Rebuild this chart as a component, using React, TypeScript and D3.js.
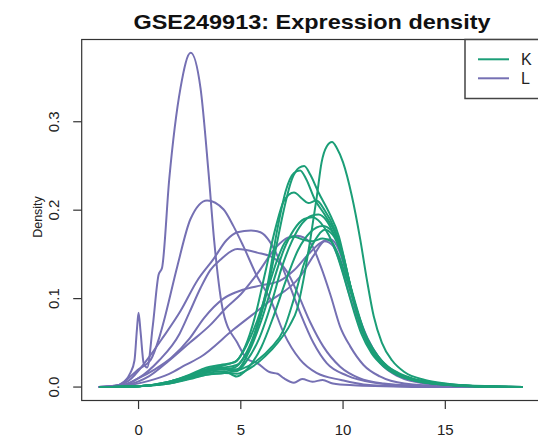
import React from "react";
import * as d3 from "d3";

type Pt = [number, number];

// group L (purple) density curves, [expression, density]
const groupL: Pt[][] = [
  [[-1.95,0],[-1.2,0.001],[-0.7,0.006],[-0.4,0.016],[-0.2,0.03],[-0.08,0.065],[0,0.084],[0.1,0.062],[0.25,0.027],[0.42,0.022],[0.7,0.07],[0.98,0.127],[1.15,0.135],[1.5,0.235],[2.05,0.338],[2.55,0.378],[3.03,0.338],[3.42,0.243],[3.7,0.165],[4.15,0.084],[4.83,0.05],[5.3,0.032],[5.8,0.027],[6.4,0.017],[6.8,0.015],[7.1,0.01],[7.6,0.005],[8.0,0.009],[8.5,0.006],[9.0,0.008],[9.5,0.004],[10.5,0.002],[12,0.001],[14,0],[18.8,0]],
  [[-1.95,0],[-1.0,0.002],[-0.4,0.012],[0,0.02],[0.6,0.031],[1.0,0.055],[1.22,0.073],[1.9,0.137],[2.54,0.19],[3.35,0.211],[4.15,0.201],[4.64,0.182],[5.13,0.159],[5.8,0.125],[6.45,0.099],[7.1,0.061],[7.9,0.031],[8.7,0.016],[9.9,0.008],[11,0.003],[13,0.001],[18.8,0]],
  [[-1.95,0],[-1.0,0.002],[-0.5,0.007],[0.42,0.031],[1.22,0.057],[2.05,0.086],[2.86,0.12],[3.67,0.145],[4.3,0.166],[4.83,0.175],[5.5,0.177],[5.96,0.175],[6.4,0.165],[6.8,0.148],[7.27,0.122],[7.9,0.084],[8.55,0.05],[9.2,0.027],[10.2,0.013],[11.5,0.005],[13,0.002],[18.8,0]],
  [[-1.95,0],[-0.8,0.002],[0,0.01],[1,0.03],[2,0.06],[2.5,0.085],[3.03,0.112],[3.5,0.132],[4.0,0.144],[4.83,0.156],[5.8,0.152],[6.6,0.146],[7.27,0.13],[7.76,0.107],[8.4,0.073],[9.03,0.046],[9.86,0.023],[10.8,0.01],[12,0.004],[14,0.001],[18.8,0]],
  [[-1.95,0],[-0.5,0.003],[0.5,0.012],[1.5,0.03],[2.5,0.05],[3.5,0.07],[4.3,0.09],[5.0,0.105],[5.8,0.128],[6.8,0.16],[7.3,0.169],[7.75,0.171],[8.4,0.163],[8.9,0.137],[9.4,0.103],[9.86,0.068],[10.35,0.046],[11,0.025],[11.8,0.012],[13,0.004],[15,0.001],[18.8,0]],
  [[-1.95,0],[-0.5,0.002],[0.5,0.007],[1.5,0.015],[2.3,0.025],[3.03,0.034],[4.64,0.065],[6.3,0.095],[7.9,0.125],[8.6,0.15],[9.1,0.165],[9.5,0.16],[9.86,0.14],[10.3,0.105],[10.8,0.07],[11.3,0.045],[11.9,0.025],[12.7,0.012],[14,0.004],[16,0.001],[18.8,0]],
  [[-1.95,0],[-0.8,0.002],[0,0.01],[0.8,0.02],[1.6,0.033],[2.5,0.055],[3.2,0.078],[4.15,0.1],[5.1,0.11],[6.0,0.115],[6.9,0.12],[7.6,0.132],[8.3,0.15],[8.9,0.163],[9.37,0.167],[9.8,0.155],[10.2,0.125],[10.7,0.085],[11.2,0.055],[11.8,0.032],[12.5,0.016],[13.5,0.007],[15,0.002],[18.8,0]],
];

// group K (green) density curves
const groupK: Pt[][] = [
  [[-1.9,0],[0,0.001],[1.5,0.004],[2.5,0.01],[3.3,0.014],[4.2,0.016],[4.8,0.015],[5.5,0.022],[6.2,0.035],[6.8,0.05],[7.4,0.07],[7.75,0.088],[8.07,0.122],[8.4,0.167],[8.72,0.216],[8.95,0.254],[9.2,0.272],[9.46,0.277],[9.7,0.27],[10.0,0.254],[10.43,0.216],[10.84,0.167],[11.16,0.122],[11.5,0.08],[11.9,0.05],[12.4,0.03],[13,0.017],[14,0.008],[15,0.004],[16.5,0.001],[18.8,0]],
  [[-1.9,0],[0,0.001],[1.5,0.005],[2.5,0.012],[3.2,0.018],[4.0,0.02],[4.7,0.022],[5.2,0.035],[5.7,0.06],[6.2,0.1],[6.7,0.155],[7.1,0.2],[7.5,0.235],[7.85,0.248],[8.1,0.25],[8.4,0.24],[8.8,0.22],[9.3,0.198],[9.8,0.17],[10.2,0.13],[10.6,0.09],[11.0,0.06],[11.5,0.037],[12.1,0.022],[12.8,0.013],[13.8,0.006],[15,0.003],[16.5,0.001],[18.8,0]],
  [[-1.9,0],[0,0.001],[1.5,0.006],[2.5,0.013],[3.3,0.02],[4.1,0.022],[4.8,0.025],[5.3,0.04],[5.8,0.07],[6.3,0.115],[6.8,0.18],[7.2,0.222],[7.6,0.242],[7.9,0.245],[8.2,0.235],[8.6,0.213],[9.1,0.195],[9.6,0.175],[10.0,0.148],[10.4,0.11],[10.8,0.075],[11.2,0.05],[11.7,0.032],[12.3,0.019],[13,0.011],[14,0.005],[15.5,0.002],[18.8,0]],
  [[-1.9,0],[0,0.001],[1.5,0.006],[2.5,0.014],[3.3,0.022],[4.0,0.025],[4.7,0.028],[5.2,0.045],[5.7,0.08],[6.2,0.13],[6.7,0.18],[7.1,0.21],[7.6,0.22],[8.0,0.213],[8.3,0.208],[8.7,0.211],[9.1,0.2],[9.6,0.178],[10.0,0.15],[10.4,0.11],[10.8,0.077],[11.2,0.052],[11.7,0.033],[12.3,0.02],[13,0.012],[14,0.006],[15.5,0.002],[18.8,0]],
  [[-1.9,0],[0,0.001],[1.5,0.005],[2.5,0.011],[3.3,0.017],[4.1,0.02],[4.8,0.018],[5.3,0.03],[5.9,0.055],[6.5,0.095],[7.0,0.135],[7.5,0.165],[8.0,0.185],[8.5,0.194],[8.8,0.195],[9.2,0.188],[9.6,0.17],[10.0,0.145],[10.4,0.108],[10.8,0.075],[11.2,0.05],[11.7,0.032],[12.3,0.019],[13,0.011],[14,0.005],[15.5,0.002],[18.8,0]],
  [[-1.9,0],[0,0.001],[1.5,0.005],[2.5,0.01],[3.3,0.016],[4.2,0.018],[4.8,0.012],[5.3,0.02],[6.0,0.045],[6.6,0.08],[7.2,0.12],[7.8,0.155],[8.4,0.175],[9.0,0.182],[9.4,0.178],[9.8,0.16],[10.2,0.128],[10.6,0.095],[11.0,0.065],[11.5,0.042],[12.0,0.027],[12.7,0.016],[13.5,0.009],[14.5,0.005],[16,0.002],[18.8,0]],
  [[-1.9,0],[0,0.001],[1.5,0.004],[2.5,0.009],[3.3,0.014],[4.2,0.016],[5.0,0.02],[5.8,0.03],[6.5,0.045],[7.1,0.065],[7.6,0.1],[8.1,0.14],[8.6,0.165],[9.1,0.178],[9.5,0.172],[9.9,0.152],[10.3,0.118],[10.7,0.085],[11.1,0.058],[11.6,0.038],[12.2,0.023],[12.9,0.013],[13.8,0.007],[15,0.003],[16.5,0.001],[18.8,0]],
  [[-1.9,0],[0,0.001],[1.5,0.006],[2.5,0.013],[3.3,0.02],[4.1,0.024],[4.8,0.03],[5.3,0.048],[5.8,0.075],[6.3,0.11],[6.8,0.145],[7.2,0.165],[7.6,0.17],[8.0,0.167],[8.5,0.165],[9.0,0.168],[9.4,0.165],[9.8,0.148],[10.2,0.12],[10.6,0.09],[11.0,0.062],[11.5,0.04],[12.0,0.025],[12.7,0.015],[13.5,0.008],[14.5,0.004],[16,0.001],[18.8,0]],
  [[-1.9,0],[0,0.001],[1.5,0.005],[2.5,0.012],[3.3,0.019],[4.1,0.021],[4.8,0.02],[5.4,0.04],[6.0,0.075],[6.6,0.12],[7.1,0.155],[7.6,0.178],[8.1,0.19],[8.5,0.192],[8.9,0.186],[9.3,0.172],[9.7,0.15],[10.1,0.12],[10.5,0.088],[10.9,0.06],[11.4,0.038],[12.0,0.023],[12.7,0.013],[13.6,0.007],[15,0.003],[16.5,0.001],[18.8,0]],
];

const groups = ["K", "L"];
const groupColors = ["#1B9E77", "#7570B3"];
const xTicks = [0, 5, 10, 15];
const yTicks = [0.0, 0.1, 0.2, 0.3];

export default function App() {
  const width = 538;
  const height = 437;
  const plot = { left: 81.7, right: 540, top: 39.5, bottom: 400.5 };
  const font = "'Liberation Sans', Arial, Helvetica, sans-serif";

  const xScale = d3.scaleLinear().domain([-2.78, 19.63]).range([plot.left, plot.right]);
  const yScale = d3.scaleLinear().domain([-0.0152, 0.393]).range([plot.bottom, plot.top]);

  const line = d3
    .line<Pt>()
    .x((d) => xScale(d[0]))
    .y((d) => yScale(d[1]))
    .curve(d3.curveMonotoneX);

  return (
    <svg
      width={width}
      height={height}
      style={{ position: "absolute", left: 0, top: 0, background: "#fff" }}
      fontFamily={font}
    >
      <defs>
        <clipPath id="plot-clip">
          <rect x={plot.left} y={plot.top} width={plot.right - plot.left} height={plot.bottom - plot.top} />
        </clipPath>
      </defs>

      <text
        x={312}
        y={29}
        textAnchor="middle"
        fontSize={21}
        fontWeight="bold"
        fill="#111"
        textLength={357}
        lengthAdjust="spacingAndGlyphs"
      >
        GSE249913: Expression density
      </text>

      <g clipPath="url(#plot-clip)" fill="none" strokeWidth={2} strokeLinejoin="round">
        {groupL.map((c, i) => (
          <path key={`L${i}`} d={line(c) ?? ""} stroke={groupColors[1]} />
        ))}
        {groupK.map((c, i) => (
          <path key={`K${i}`} d={line(c) ?? ""} stroke={groupColors[0]} />
        ))}
      </g>

      {/* plot box */}
      <rect
        x={plot.left}
        y={plot.top}
        width={plot.right - plot.left}
        height={plot.bottom - plot.top}
        fill="none"
        stroke="#333"
        strokeWidth={1.2}
      />

      {/* x axis */}
      {xTicks.map((t) => (
        <g key={`x${t}`} transform={`translate(${xScale(t)},${plot.bottom})`}>
          <line y2={8.5} stroke="#333" strokeWidth={1.2} />
          <text y={34} textAnchor="middle" fontSize={15} fill="#222">
            {t}
          </text>
        </g>
      ))}

      {/* y axis */}
      {yTicks.map((t) => (
        <g key={`y${t}`} transform={`translate(${plot.left},${yScale(t)})`}>
          <line x2={-8.5} stroke="#333" strokeWidth={1.2} />
          <text transform="translate(-23,0) rotate(-90)" textAnchor="middle" fontSize={15} fill="#222">
            {t.toFixed(1)}
          </text>
        </g>
      ))}

      <text
        transform={`translate(42,217) rotate(-90)`}
        textAnchor="middle"
        fontSize={12.5}
        fill="#222"
      >
        Density
      </text>

      {/* legend */}
      <g>
        <rect x={465} y={plot.top} width={plot.right - 465} height={98.5 - plot.top} fill="#fff" stroke="#444" strokeWidth={1.5} />
        {groups.map((g, i) => (
          <g key={g} transform={`translate(0,${59.3 + i * 19})`}>
            <line x1={478} x2={509} stroke={groupColors[i]} strokeWidth={2} />
            <text x={521} y={5.5} fontSize={16} fill="#222">
              {g}
            </text>
          </g>
        ))}
      </g>
    </svg>
  );
}
